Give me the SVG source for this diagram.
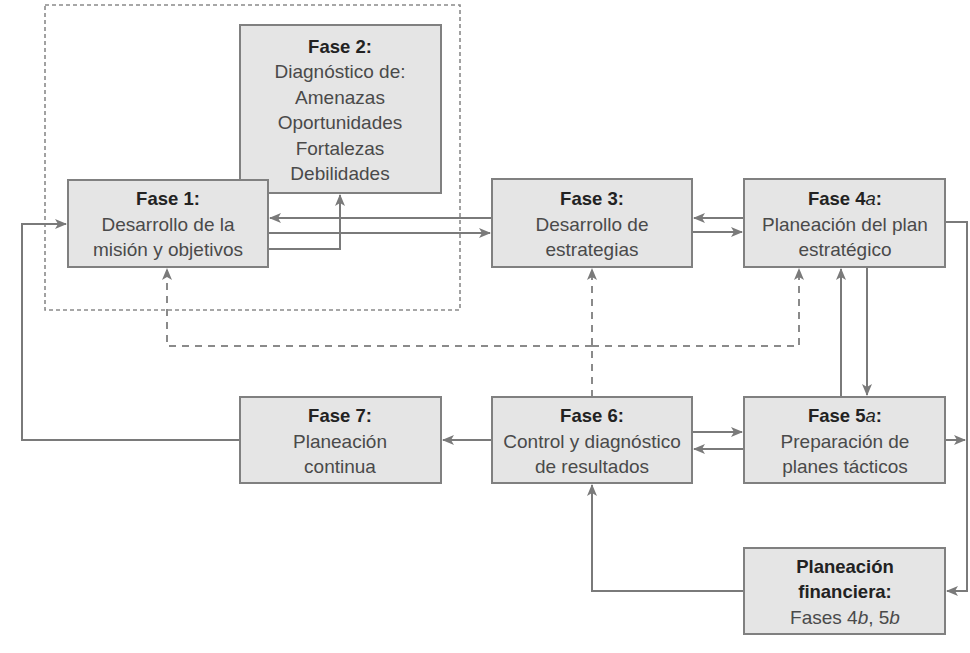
<svg xmlns="http://www.w3.org/2000/svg" width="970" height="653" viewBox="0 0 970 653">
<style>
.box{fill:#e5e5e5;stroke:#808080;stroke-width:2}
.t{font-family:"Liberation Sans",Arial,sans-serif;font-size:19px;text-anchor:middle;fill:#4a4a4a}
.b{font-weight:bold;fill:#222;font-size:18.5px}
.ln{fill:none;stroke:#7a7a7a;stroke-width:2}
.dl{fill:none;stroke:#8a8a8a;stroke-width:2;stroke-dasharray:7 6}
.frame{fill:none;stroke:#8a8a8a;stroke-width:1.6;stroke-dasharray:4 3}
</style>
<defs>
<marker id="ah" viewBox="0 0 12 10" refX="11" refY="5" markerWidth="12" markerHeight="10" markerUnits="userSpaceOnUse" orient="auto">
<path d="M0,0 L12,5 L0,10 L3,5 Z" fill="#7a7a7a"/>
</marker>
</defs>
<rect width="970" height="653" fill="#fff"/>
<rect class="frame" x="45" y="5" width="415" height="305"/>
<g id="connectors">
<path class="ln" d="M268,233 H490" marker-end="url(#ah)"/>
<path class="ln" d="M492,218 H270" marker-end="url(#ah)"/>
<path class="ln" d="M268,249 H340 V195" marker-end="url(#ah)"/>
<path class="ln" d="M744,218 H694" marker-end="url(#ah)"/>
<path class="ln" d="M692,232 H742" marker-end="url(#ah)"/>
<path class="ln" d="M945,222 H967 V591 H947" marker-end="url(#ah)"/>
<path class="ln" d="M945,440 H965" marker-end="url(#ah)"/>
<path class="ln" d="M867,267 V395" marker-end="url(#ah)"/>
<path class="ln" d="M841,397 V269" marker-end="url(#ah)"/>
<path class="ln" d="M692,432 H742" marker-end="url(#ah)"/>
<path class="ln" d="M744,449 H694" marker-end="url(#ah)"/>
<path class="ln" d="M492,440 H443" marker-end="url(#ah)"/>
<path class="ln" d="M240,440 H22 V224 H66" marker-end="url(#ah)"/>
<path class="ln" d="M744,591 H592 V485" marker-end="url(#ah)"/>
<path class="dl" d="M592,397 V269" marker-end="url(#ah)"/>
<path class="dl" d="M592,346 H799 V269" marker-end="url(#ah)"/>
<path class="dl" d="M592,346 H167 V269" marker-end="url(#ah)"/>
</g>
<g id="fase2">
<rect class="box" x="240" y="25" width="201" height="168"/>
<text class="t b" x="340" y="53">Fase 2:</text>
<text class="t" x="340" y="78">Diagnóstico de:</text>
<text class="t" x="340" y="104">Amenazas</text>
<text class="t" x="340" y="129">Oportunidades</text>
<text class="t" x="340" y="155">Fortalezas</text>
<text class="t" x="340" y="180">Debilidades</text>
</g>
<g id="fase1">
<rect class="box" x="68" y="180" width="200" height="87"/>
<text class="t b" x="168" y="205">Fase 1:</text>
<text class="t" x="168" y="231">Desarrollo de la</text>
<text class="t" x="168" y="256">misión y objetivos</text>
</g>
<g id="fase3">
<rect class="box" x="492" y="179" width="200" height="88"/>
<text class="t b" x="592" y="205">Fase 3:</text>
<text class="t" x="592" y="231">Desarrollo de</text>
<text class="t" x="592" y="256">estrategias</text>
</g>
<g id="fase4a">
<rect class="box" x="744" y="179" width="201" height="88"/>
<text class="t b" x="845" y="205">Fase 4<tspan font-style="italic" font-weight="normal">a</tspan>:</text>
<text class="t" x="845" y="231">Planeación del plan</text>
<text class="t" x="845" y="256">estratégico</text>
</g>
<g id="fase7">
<rect class="box" x="240" y="397" width="201" height="86"/>
<text class="t b" x="340" y="422">Fase 7:</text>
<text class="t" x="340" y="448">Planeación</text>
<text class="t" x="340" y="473">continua</text>
</g>
<g id="fase6">
<rect class="box" x="492" y="397" width="200" height="86"/>
<text class="t b" x="592" y="422">Fase 6:</text>
<text class="t" x="592" y="448">Control y diagnóstico</text>
<text class="t" x="592" y="473">de resultados</text>
</g>
<g id="fase5a">
<rect class="box" x="744" y="397" width="201" height="86"/>
<text class="t b" x="845" y="422">Fase 5<tspan font-style="italic" font-weight="normal">a</tspan>:</text>
<text class="t" x="845" y="448">Preparación de</text>
<text class="t" x="845" y="473">planes tácticos</text>
</g>
<g id="financiera">
<rect class="box" x="744" y="548" width="201" height="86"/>
<text class="t b" x="845" y="573">Planeación</text>
<text class="t b" x="845" y="598">financiera:</text>
<text class="t" x="845" y="624">Fases 4<tspan font-style="italic">b</tspan>, 5<tspan font-style="italic">b</tspan></text>
</g>
</svg>
